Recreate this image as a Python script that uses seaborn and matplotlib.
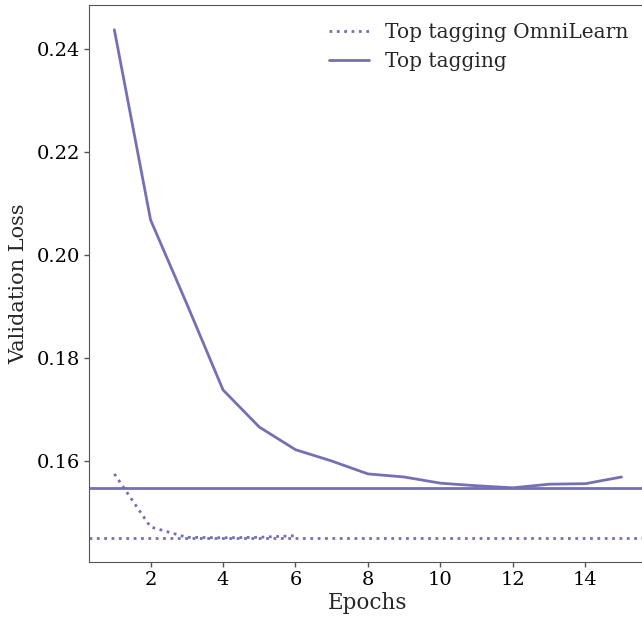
import numpy as np
import pandas as pd
import matplotlib
matplotlib.use('Agg')
import matplotlib.pyplot as plt
import seaborn as sns

# Datos
epochs_top = [1, 2, 3, 4, 5, 6, 7, 8, 9, 10, 11, 12, 13, 14, 15]
loss_top = [0.2437, 0.2068, 0.1905, 0.1738, 0.1666, 0.1622, 0.1600, 0.1575,
            0.1569, 0.1557, 0.1552, 0.1548, 0.1555, 0.1556, 0.1569]
epochs_omni = [1, 2, 3, 4, 5, 6]
loss_omni = [0.1575, 0.1472, 0.1452, 0.1451, 0.1452, 0.1455]
labels = ["Top tagging OmniLearn", "Top tagging"]
color = "#7570b3"

sns.set_style("white")
plt.rcParams['font.family'] = ['DejaVu Serif']
plt.rcParams['axes.edgecolor'] = '#555555'
plt.rcParams['xtick.color'] = '#555555'
plt.rcParams['ytick.color'] = '#555555'
plt.rcParams['xtick.labelcolor'] = 'black'
plt.rcParams['ytick.labelcolor'] = 'black'

df_top = pd.DataFrame({"Epochs": epochs_top, "loss": loss_top})
df_omni = pd.DataFrame({"Epochs": epochs_omni, "loss": loss_omni})

fig = plt.figure(figsize=(6.42, 6.18), dpi=100)
ax = fig.add_axes([0.1386, 0.0906, 0.869, 0.9013])

sns.lineplot(data=df_omni, x="Epochs", y="loss", ax=ax, color=color,
             linestyle=":", linewidth=2, label=labels[0])
sns.lineplot(data=df_top, x="Epochs", y="loss", ax=ax, color=color,
             linestyle="-", linewidth=2, label=labels[1])
ax.axhline(min(loss_omni), color=color, linestyle=":", linewidth=2)
ax.axhline(min(loss_top), color=color, linestyle="-", linewidth=2)

ax.set_xlim(0.3, 15.7)
ax.set_ylim(0.1404, 0.2485)
ax.set_xticks([2, 4, 6, 8, 10, 12, 14])
ax.set_yticks([0.16, 0.18, 0.20, 0.22, 0.24])
ax.tick_params(axis='both', which='major', labelsize=14, direction='out',
               length=3.5, width=1, pad=3, left=True, bottom=True)
ax.set_xlabel("Epochs", fontsize=15.5, labelpad=2)
ax.set_ylabel("Validation Loss", fontsize=15, labelpad=6)
ax.legend(loc='upper right', frameon=False, fontsize=14.5, handlelength=2.0)

plt.savefig('out.png', dpi=100)
